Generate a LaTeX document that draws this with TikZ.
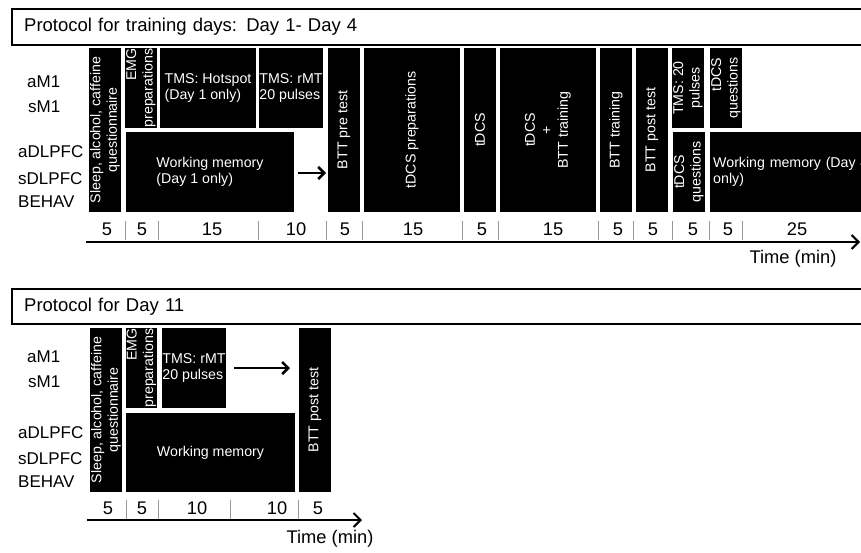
\documentclass[tikz,border=0pt]{standalone}
\usepackage{fontspec}
\setmainfont{Liberation Sans}
\usetikzlibrary{arrows.meta}

\newcommand{\blkfont}{\fontsize{14.2}{16.5}\selectfont}
\newcommand{\roifont}{\fontsize{17}{19}\selectfont}
\newcommand{\numfont}{\fontsize{18.3}{19}\selectfont}
\newcommand{\ttlfont}{\fontsize{18.5}{20}\selectfont}

\tikzset{
  blk/.style={fill=black,text=white,inner sep=0pt,font=\blkfont,align=center},
  vblk/.style={blk,rotate=90},
  roi/.style={anchor=west,inner sep=0pt,font=\roifont},
  num/.style={inner sep=0pt,font=\numfont},
  tickmark/.style={draw=gray!80,line width=0.8pt},
  axis/.style={line width=2pt,-{Straight Barb[length=7pt,width=14pt]}},
  arr/.style={line width=2.5pt,-{Straight Barb[length=6pt,width=12pt]}},
  ttl/.style={draw,line width=2.4pt,anchor=north west,minimum height=36pt,
    text width=850pt,inner xsep=12pt,align=left,font=\ttlfont}
}

\begin{document}
\begin{tikzpicture}[x=1pt,y=-1pt]
\useasboundingbox (0,0) rectangle (861,552);
\clip (0,0) rectangle (861,552);

% training days
\node[ttl] (T1) at (11,8) {Protocol for training days: Day 1- Day 4};

\node[roi] (R1) at (27,82) {aM1};
\node[roi] (R2) at (28,107) {sM1};
\node[roi] (R3) at (18,152) {aDLPFC};
\node[roi] (R4) at (18,179) {sDLPFC};
\node[roi] (R5) at (18,202) {BEHAV};

\node[vblk,minimum width=164pt,minimum height=32pt] (SQ) at (105,130) {Sleep, alcohol, caffeine\\questionnaire};
\node[vblk,minimum width=80pt,minimum height=32pt,align=right] (EMG) at (141,88) {EMG\\preparations};
\node[blk,minimum width=96pt,minimum height=80pt,align=left] (HS) at (208,88) {TMS: Hotspot\\(Day 1 only)};
\node[blk,minimum width=64pt,minimum height=80pt,align=left] (RMT) at (291,88) {TMS: rMT\\20 pulses};
\node[blk,minimum width=168pt,minimum height=80pt,align=left] (WM) at (210,172) {Working memory\\(Day 1 only)};
\node[vblk,minimum width=164pt,minimum height=32pt] (PRE) at (344,130) {BTT pre test};
\node[vblk,minimum width=164pt,minimum height=96pt] (PREP) at (412,130) {tDCS preparations};
\node[vblk,minimum width=164pt,minimum height=32pt] (TDCS) at (480,130) {tDCS};
\node[vblk,minimum width=164pt,minimum height=96pt] (TRAIN) at (548,130) {tDCS\\+\\BTT training};
\node[vblk,minimum width=164pt,minimum height=32pt] (BTR) at (616,130) {BTT training};
\node[vblk,minimum width=164pt,minimum height=32pt] (POST) at (652,130) {BTT post test};
\node[vblk,minimum width=80pt,minimum height=32pt] (P20) at (688,88) {TMS: 20\\pulses};
\node[vblk,minimum width=80pt,minimum height=32pt] (Q1) at (689,172) {tDCS\\questions};
\node[vblk,minimum width=80pt,minimum height=32pt,align=right] (Q2) at (726,88) {tDCS\\questions};
\node[blk,anchor=west,minimum height=80pt,text width=184pt,inner xsep=3pt,align=left] (WM4) at (710,172) {Working memory (Day 4\\only)};

\coordinate (A1s) at (298,173);
\coordinate (A1e) at (326,173);
\draw[arr] (A1s) -- (A1e);

\foreach \t in {125,158,258,326,362,462,498,598,633,672,709,742}
  \draw[tickmark] (\t,221) -- (\t,240);
\foreach \x/\n in {107/5,142/5,212/15,296/10,345/5,413/15,482/5,553/15,618/5,653/5,693/5,728/5,797/25}
  \node[num] (n\x) at (\x,229) {\n};
\coordinate (X0) at (86,242);
\coordinate (X1) at (860,242);
\draw[axis] (X0) -- (X1);
\node[num] (TL1) at (793,259) {Time (min)};

% day 11
\node[ttl,minimum height=35pt] (T2) at (11,288) {Protocol for Day 11};

\node[roi] (B1) at (27,357) {aM1};
\node[roi] (B2) at (28,382) {sM1};
\node[roi] (B3) at (18,433) {aDLPFC};
\node[roi] (B4) at (18,459) {sDLPFC};
\node[roi] (B5) at (18,482) {BEHAV};

\node[vblk,minimum width=164pt,minimum height=32pt] (SQb) at (106,410) {Sleep, alcohol, caffeine\\questionnaire};
\node[vblk,minimum width=80pt,minimum height=31pt,align=right] (EMGb) at (141.5,368) {EMG\\preparations};
\node[blk,minimum width=64pt,minimum height=80pt,align=left] (RMTb) at (194,368) {TMS: rMT\\20 pulses};
\node[blk,minimum width=169pt,minimum height=79pt] (WMb) at (210.5,452.5) {Working memory};
\node[vblk,minimum width=164pt,minimum height=32pt] (POSTb) at (315,410) {BTT post test};

\coordinate (A2s) at (234,368);
\coordinate (A2e) at (290,368);
\draw[arr] (A2s) -- (A2e);

\foreach \t in {126,158,230,298}
  \draw[tickmark] (\t,500) -- (\t,519);
\foreach \x/\n in {108/5,142/5,197/10,277/10,318/5}
  \node[num] (m\x) at (\x,508) {\n};
\coordinate (Y0) at (87,520);
\coordinate (Y1) at (362,520);
\draw[axis] (Y0) -- (Y1);
\node[num] (TL2) at (330,539) {Time (min)};

\end{tikzpicture}
\end{document}
